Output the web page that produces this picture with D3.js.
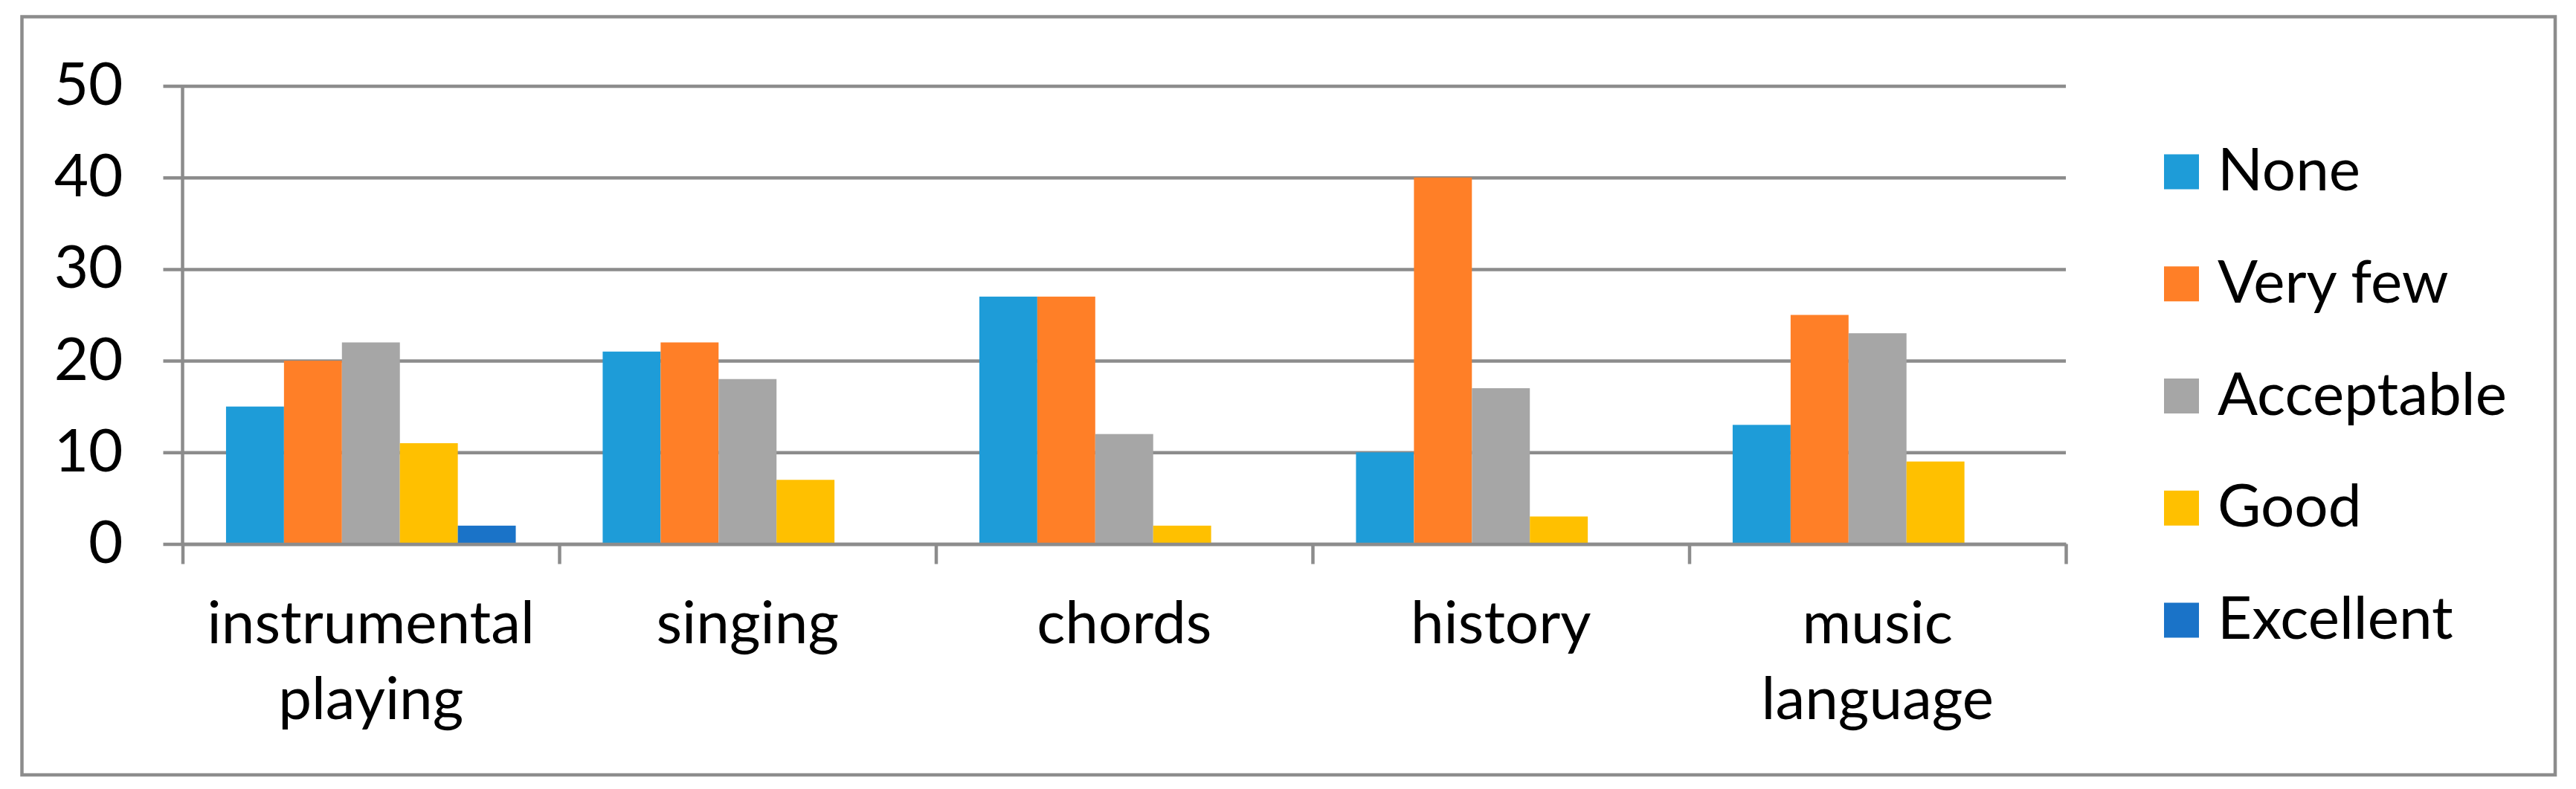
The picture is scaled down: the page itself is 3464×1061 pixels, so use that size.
<!DOCTYPE html>
<html>
<head>
<meta charset="utf-8">
<script src="https://cdn.jsdelivr.net/npm/d3@7"></script>
<style>
  html, body { margin: 0; padding: 0; background: #ffffff; }
  svg { display: block; }
  text { font-family: Lato, "Open Sans", sans-serif; fill: #000; }
</style>
</head>
<body>
<svg id="chart" width="3464" height="1061"></svg>
<script>
// ---- data ----
const categories = ["instrumental playing", "singing", "chords", "history", "music language"];
const categoryLines = [["instrumental", "playing"], ["singing"], ["chords"], ["history"], ["music", "language"]];
const seriesNames = ["None", "Very few", "Acceptable", "Good", "Excellent"];
const none       = [15, 21, 27, 10, 13];
const veryFew    = [20, 22, 27, 40, 25];
const acceptable = [22, 18, 12, 17, 23];
const good       = [11, 7, 2, 3, 9];
const excellent  = [2, 0, 0, 0, 0];
const yTicks = [0, 10, 20, 30, 40, 50];
const seriesColors = ["#1E9CD8", "#FF7F27", "#A6A6A6", "#FFC000", "#1A73C8"];

const seriesValues = [none, veryFew, acceptable, good, excellent];

// ---- layout ----
const W = 3464, H = 1061;
const gridColor = "#8C8C8C";
const fontSize = 80;
const margin = { left: 245.5, top: 115.5 };
const plotW = 2532.5, plotH = 616;

const svg = d3.select("#chart");

// outer border
svg.append("rect")
  .attr("x", 29.5).attr("y", 22.5)
  .attr("width", 3436 - 29.5).attr("height", 1042 - 22.5)
  .attr("fill", "#fff").attr("stroke", gridColor).attr("stroke-width", 4.5);

const g = svg.append("g").attr("transform", `translate(${margin.left},${margin.top})`);

const y = d3.scaleLinear().domain([0, 50]).range([plotH, 0]);
const x0 = d3.scaleBand().domain(categories).range([0, plotW]).paddingInner(0).paddingOuter(0);
const gapFrac = 1.5 / 6.5; // Excel gap width 150%
const x1 = d3.scaleBand().domain(seriesNames)
  .range([x0.bandwidth() * gapFrac / 2, x0.bandwidth() * (1 - gapFrac / 2)])
  .padding(0);
const color = d3.scaleOrdinal().domain(seriesNames).range(seriesColors);

// gridlines + y axis
const yAxis = g.append("g").call(
  d3.axisLeft(y).tickValues(yTicks).tickSize(26).tickSizeOuter(0).tickFormat(d3.format("d"))
);
yAxis.select(".domain").remove();
yAxis.selectAll(".tick line")
  .attr("x1", -26).attr("x2", plotW)
  .attr("stroke", gridColor).attr("stroke-width", 4.5);
yAxis.selectAll(".tick text")
  .attr("x", -80)
  .attr("dy", null)
  .attr("y", 25)
  .style("font-size", fontSize + "px")
  .style("font-family", "Lato, 'Open Sans', sans-serif")
  .attr("fill", "#000");

// bars
const rows = categories.map((c, i) => ({ cat: c, vals: seriesNames.map((s, j) => ({ s, v: seriesValues[j][i] })) }));
const grp = g.append("g").selectAll("g").data(rows).join("g")
  .attr("transform", d => `translate(${x0(d.cat)},0)`);
grp.selectAll("rect").data(d => d.vals.filter(e => e.v > 0)).join("rect")
  .attr("x", d => x1(d.s))
  .attr("width", x1.bandwidth())
  .attr("y", d => y(d.v))
  .attr("height", d => y(0) - y(d.v))
  .attr("fill", d => color(d.s));

// vertical axis line
g.append("line")
  .attr("x1", 0).attr("x2", 0).attr("y1", y(50)).attr("y2", y(0))
  .attr("stroke", gridColor).attr("stroke-width", 4.5);

// x axis with boundary ticks
const xb = d3.scaleLinear().domain([0, categories.length]).range([0, plotW]);
const xAxis = g.append("g").attr("transform", `translate(0,${y(0)})`)
  .call(d3.axisBottom(xb).tickValues(d3.range(categories.length + 1)).tickSize(27).tickSizeOuter(0).tickFormat(""));
xAxis.select(".domain").attr("stroke", gridColor).attr("stroke-width", 4.5);
xAxis.selectAll(".tick line").attr("stroke", gridColor).attr("stroke-width", 4.5);

// category labels
const lab = g.append("g").selectAll("text").data(categories).join("text")
  .attr("x", d => x0(d) + x0.bandwidth() / 2)
  .attr("y", y(0) + 133)
  .attr("text-anchor", "middle")
  .style("font-size", fontSize + "px");
lab.each(function(d, i) {
  const t = d3.select(this);
  categoryLines[i].forEach((line, k) => {
    t.append("tspan").attr("x", x0(d) + x0.bandwidth() / 2).attr("dy", k === 0 ? 0 : 102).text(line);
  });
});

// legend
const legendCenters = d3.scaleLinear().domain([0, seriesNames.length - 1]).range([231, 834]);
const leg = svg.append("g").selectAll("g").data(seriesNames).join("g")
  .attr("transform", (d, i) => `translate(2910,${legendCenters(i)})`);
leg.append("rect").attr("x", 0).attr("y", -23.5).attr("width", 47).attr("height", 47)
  .attr("fill", d => color(d));
leg.append("text").attr("x", 72).attr("y", 25).style("font-size", fontSize + "px").text(d => d);
</script>
</body>
</html>
